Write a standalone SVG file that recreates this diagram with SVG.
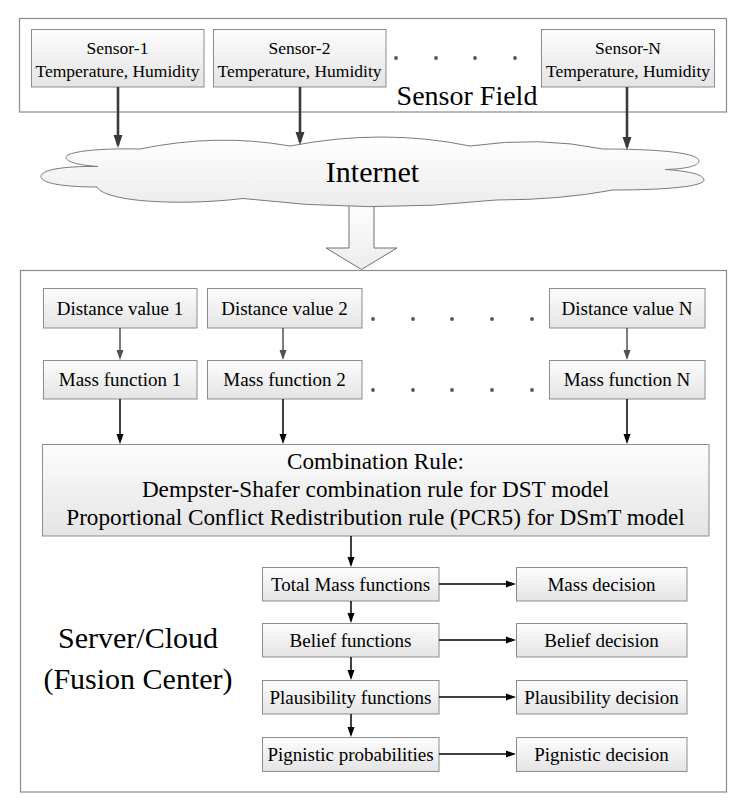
<svg xmlns="http://www.w3.org/2000/svg" width="740" height="812" viewBox="0 0 740 812">
<defs>
<linearGradient id="gBox" x1="0" y1="0" x2="0" y2="1">
<stop offset="0" stop-color="#fdfdfd"/>
<stop offset="1" stop-color="#e4e4e4"/>
</linearGradient>
<linearGradient id="gCloud" x1="0" y1="0" x2="0" y2="1">
<stop offset="0" stop-color="#ffffff"/>
<stop offset="1" stop-color="#ececec"/>
</linearGradient>
<marker id="mDark" markerUnits="userSpaceOnUse" markerWidth="13" markerHeight="10" refX="10" refY="4.5" orient="auto" viewBox="0 0 13 9">
<path d="M0,0 L13,4.5 L0,9 z" fill="#3a3a3a"/>
</marker>
<marker id="mGray" markerUnits="userSpaceOnUse" markerWidth="10" markerHeight="8" refX="8" refY="3.5" orient="auto" viewBox="0 0 10 7">
<path d="M0,0 L10,3.5 L0,7 z" fill="#505050"/>
</marker>
<marker id="mBlack" markerUnits="userSpaceOnUse" markerWidth="10" markerHeight="8" refX="8" refY="3.5" orient="auto" viewBox="0 0 10 7">
<path d="M0,0 L10,3.5 L0,7 z" fill="#000000"/>
</marker>
</defs>
<style>
.frame{fill:#ffffff;stroke:#8a8a8a;stroke-width:1.2}
.box{fill:url(#gBox);stroke:#8c8c8c;stroke-width:1}
text{font-family:'Liberation Serif','DejaVu Serif',serif;fill:#000;text-anchor:middle}
.s17{font-size:17.5px}
.s19{font-size:19px}
.s22{font-size:23.2px}
.s28{font-size:28px}
.s30{font-size:30px}
.dot{fill:#555555}
.ad{stroke:#3a3a3a;stroke-width:2.6;fill:none}
.ag{stroke:#505050;stroke-width:1.5;fill:none}
.ab{stroke:#000;stroke-width:1.5;fill:none}
</style>
<rect width="740" height="812" fill="#ffffff"/>

<g id="sensor-field">
<rect class="frame" x="19.5" y="18.5" width="707" height="93.5"/>
<text class="s28" x="467" y="105">Sensor Field</text>
</g>
<g id="server-cloud">
<rect class="frame" x="20.5" y="270.5" width="706" height="521.5"/>
<text class="s30" x="138" y="648">Server/Cloud</text>
<text class="s30" x="138" y="689">(Fusion Center)</text>
</g>

<g id="sensor-1">
<rect class="box" x="31.5" y="29.5" width="172.5" height="57.5"/>
<text class="s17" x="117.5" y="54">Sensor-1</text>
<text class="s17" x="117.5" y="77">Temperature, Humidity</text>
</g>
<g id="sensor-2">
<rect class="box" x="213.5" y="29.5" width="172.5" height="57.5"/>
<text class="s17" x="299.5" y="54">Sensor-2</text>
<text class="s17" x="299.5" y="77">Temperature, Humidity</text>
</g>
<g id="sensor-n">
<rect class="box" x="541.5" y="29.5" width="173" height="57.5"/>
<text class="s17" x="628" y="54">Sensor-N</text>
<text class="s17" x="628" y="77">Temperature, Humidity</text>
</g>
<g id="sensor-dots">
<circle class="dot" cx="396" cy="58" r="1.9"/>
<circle class="dot" cx="436" cy="58" r="1.9"/>
<circle class="dot" cx="475" cy="58" r="1.9"/>
<circle class="dot" cx="515" cy="58" r="1.9"/>
</g>

<g id="block-arrow">
<polygon points="349,200 374,200 374,248 397,248 361.5,269.5 326,248 349,248" fill="url(#gCloud)" stroke="#707070" stroke-width="1"/>
</g>

<g id="internet">
<path d="M140,149 Q217,133 290,146 Q383,128 470,146 Q540,136 603,149 C660,149 699,153 699,161 C699,166 685,169 665,169.5 C690,171 704,175 704,180 C704,186 670,190 613,190 Q560,200 496,200 Q370,214 243,198.5 C180,206 105,202 97,187 C62,187 41,183 41,176.5 C41,170 62,166 98,166.5 C75,165 66,161 66,157.5 C66,152 95,148 140,149 Z" fill="url(#gCloud)" stroke="#7a7a7a" stroke-width="1"/>
<text class="s30" x="372.5" y="182">Internet</text>
</g>

<g id="dist-1">
<rect class="box" x="43.5" y="288.5" width="153.5" height="39.5"/>
<text class="s19" x="120" y="314.5">Distance value 1</text>
</g>
<g id="dist-2">
<rect class="box" x="207.5" y="288.5" width="154.5" height="39.5"/>
<text class="s19" x="284.5" y="314.5">Distance value 2</text>
</g>
<g id="dist-n">
<rect class="box" x="549.5" y="288.5" width="155.5" height="39.5"/>
<text class="s19" x="627" y="314.5">Distance value N</text>
</g>
<g id="mass-1">
<rect class="box" x="43.5" y="360.5" width="153.5" height="38.5"/>
<text class="s19" x="120" y="386">Mass function 1</text>
</g>
<g id="mass-2">
<rect class="box" x="207.5" y="360.5" width="154.5" height="38.5"/>
<text class="s19" x="284.5" y="386">Mass function 2</text>
</g>
<g id="mass-n">
<rect class="box" x="549.5" y="360.5" width="155.5" height="38.5"/>
<text class="s19" x="627" y="386">Mass function N</text>
</g>
<g id="lower-dots">
<circle class="dot" cx="373" cy="319" r="1.9"/>
<circle class="dot" cx="413" cy="319" r="1.9"/>
<circle class="dot" cx="452" cy="319" r="1.9"/>
<circle class="dot" cx="492" cy="319" r="1.9"/>
<circle class="dot" cx="532" cy="319" r="1.9"/>
<circle class="dot" cx="373" cy="390" r="1.9"/>
<circle class="dot" cx="413" cy="390" r="1.9"/>
<circle class="dot" cx="452" cy="390" r="1.9"/>
<circle class="dot" cx="492" cy="390" r="1.9"/>
<circle class="dot" cx="532" cy="390" r="1.9"/>
</g>

<g id="combination">
<rect class="box" x="42.5" y="444.5" width="666.5" height="91.5"/>
<text class="s22" x="375.5" y="469">Combination Rule:</text>
<text class="s22" x="375.5" y="497">Dempster-Shafer combination rule for DST model</text>
<text class="s22" x="375.5" y="525">Proportional Conflict Redistribution rule (PCR5) for DSmT model</text>
</g>

<g id="total-mass">
<rect class="box" x="262.5" y="567.5" width="176.5" height="33.5"/>
<text class="s19" x="350.5" y="590.5">Total Mass functions</text>
</g>
<g id="belief">
<rect class="box" x="262.5" y="623.5" width="176.5" height="33.5"/>
<text class="s19" x="350.5" y="646.5">Belief functions</text>
</g>
<g id="plausibility">
<rect class="box" x="262.5" y="680.5" width="176.5" height="33.5"/>
<text class="s19" x="350.5" y="703.5">Plausibility functions</text>
</g>
<g id="pignistic">
<rect class="box" x="262.5" y="737.5" width="176.5" height="34"/>
<text class="s19" x="350.5" y="761">Pignistic probabilities</text>
</g>
<g id="mass-decision">
<rect class="box" x="516.5" y="567.5" width="170.5" height="33.5"/>
<text class="s19" x="601.5" y="590.5">Mass decision</text>
</g>
<g id="belief-decision">
<rect class="box" x="516.5" y="623.5" width="170.5" height="33.5"/>
<text class="s19" x="601.5" y="646.5">Belief decision</text>
</g>
<g id="plausibility-decision">
<rect class="box" x="516.5" y="680.5" width="170.5" height="33.5"/>
<text class="s19" x="601.5" y="703.5">Plausibility decision</text>
</g>
<g id="pignistic-decision">
<rect class="box" x="516.5" y="737.5" width="170.5" height="34"/>
<text class="s19" x="601.5" y="761">Pignistic decision</text>
</g>

<g id="connectors">
<line class="ad" x1="118" y1="87" x2="118" y2="145" marker-end="url(#mDark)"/>
<line class="ad" x1="300" y1="87" x2="300" y2="142" marker-end="url(#mDark)"/>
<line class="ad" x1="627" y1="87" x2="627" y2="147" marker-end="url(#mDark)"/>
<line class="ag" x1="120" y1="328" x2="120" y2="358" marker-end="url(#mGray)"/>
<line class="ag" x1="283" y1="328" x2="283" y2="358" marker-end="url(#mGray)"/>
<line class="ag" x1="627" y1="328" x2="627" y2="358" marker-end="url(#mGray)"/>
<line class="ab" x1="120" y1="399" x2="120" y2="442" marker-end="url(#mBlack)"/>
<line class="ab" x1="283" y1="399" x2="283" y2="442" marker-end="url(#mBlack)"/>
<line class="ab" x1="627" y1="399" x2="627" y2="442" marker-end="url(#mBlack)"/>
<line class="ab" x1="351" y1="536" x2="351" y2="565" marker-end="url(#mBlack)"/>
<line class="ab" x1="351" y1="601" x2="351" y2="621" marker-end="url(#mBlack)"/>
<line class="ab" x1="351" y1="657" x2="351" y2="678" marker-end="url(#mBlack)"/>
<line class="ab" x1="351" y1="714" x2="351" y2="735" marker-end="url(#mBlack)"/>
<line class="ab" x1="439" y1="584" x2="514" y2="584" marker-end="url(#mBlack)"/>
<line class="ab" x1="439" y1="640" x2="514" y2="640" marker-end="url(#mBlack)"/>
<line class="ab" x1="439" y1="697" x2="514" y2="697" marker-end="url(#mBlack)"/>
<line class="ab" x1="439" y1="754" x2="514" y2="754" marker-end="url(#mBlack)"/>
</g>
</svg>
